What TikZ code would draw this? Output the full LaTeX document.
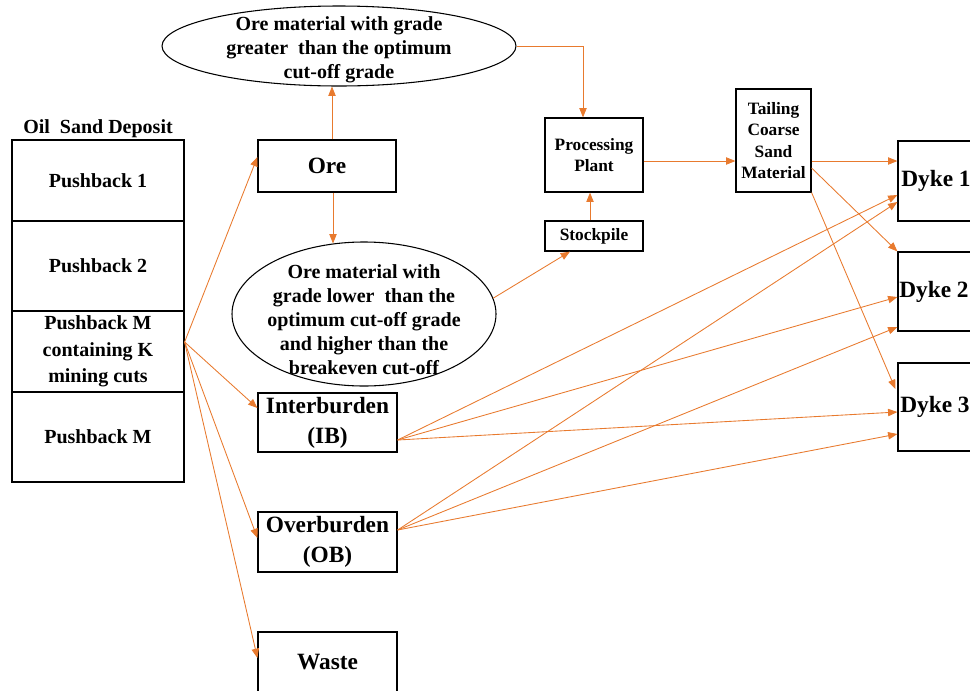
\documentclass[tikz,border=0pt]{standalone}
\usepackage{fontspec}
\setmainfont{Liberation Serif}
\usetikzlibrary{shapes.geometric,calc,arrows.meta}
\definecolor{flowor}{RGB}{232,122,46}
\newcommand{\fsz}[2]{\fontsize{#1}{#2}\selectfont\bfseries}

\begin{document}
\begin{tikzpicture}[x=0.75pt,y=-0.75pt,
  box/.style={draw, line width=0.9pt, inner sep=0pt, align=center},
  wh/.style 2 args={minimum width=#1*0.75pt, minimum height=#2*0.75pt},
  oval/.style={draw, ellipse, line width=0.8pt, inner sep=0pt},
  flow/.style={draw=flowor, line width=0.65pt, -{Triangle[length=7pt,width=5.5pt]}},
  big/.style={font=\fsz{17.5}{22.5}},
  mid/.style={font=\fsz{15}{18}},
  pbtext/.style={font=\fsz{15}{20}},
  small/.style={font=\fsz{13}{16}},
  ]
\useasboundingbox (0,0) rectangle (970,690);
\clip (0,0) rectangle (970,690);

% ---- deposit column ----
\node[pbtext] (deplabel) at (98,129) {Oil\ \ Sand Deposit};
\node[box, wh={172}{81}, pbtext] (pb1) at (98,180.5) {Pushback 1};
\node[box, wh={172}{90}, pbtext] (pb2) at (98,266) {Pushback 2};
\node[box, wh={172}{81}, pbtext] (pbk) at (98,351.5) {Pushback M\\containing K\\mining cuts};
\node[box, wh={172}{90}, pbtext] (pbm) at (98,437) {Pushback M};
\coordinate (src) at ($(pbk.east)+(0,-9.5)$);

% ---- material classes ----
\node[box, wh={138}{52}, big] (ore) at (327,166) {Ore};
\node[box, wh={139}{59}, big] (ib) at (327.5,422.5) {Interburden\\(IB)};
\node[box, wh={139}{60}, big] (ob) at (327.5,542) {Overburden\\(OB)};
\node[box, wh={139}{60}, big] (waste) at (327.5,662) {Waste};

% ---- grade ellipses ----
\node[oval, wh={354}{80}] (hi) at (339,46) {};
\node[mid, align=center] (hitxt) at (339,50) {Ore material with grade\\greater\ \ than the optimum\\cut-off grade};
\node[oval, wh={264}{144}] (lo) at (364,314) {};
\node[mid, align=center] (lotxt) at (364,320) {Ore material with\\grade lower\ \ than the\\optimum cut-off grade\\and higher than the\\breakeven cut-off};

% ---- processing ----
\node[box, wh={98}{74}, small] (plant) at (594,155) {Processing\\Plant};
\node[box, wh={98}{30}, small] (stock) at (594,236) {Stockpile};
\node[box, wh={75}{103}, small] (tail) at (773.5,140.5) {Tailing\\Coarse\\Sand\\Material};

% ---- dykes ----
\node[box, wh={80}{80}] (d1) at (938,181) {};
\node[box, wh={80}{79}] (d2) at (938,291.5) {};
\node[box, wh={80}{88}] (d3) at (938,407) {};
\node[big, anchor=west, inner sep=0pt] (d1t) at (901,181) {Dyke 1};
\node[big, anchor=west, inner sep=0pt] (d2t) at (899,292) {Dyke 2};
\node[big, anchor=west, inner sep=0pt] (d3t) at (900,407) {Dyke 3};

% ---- deposit to material classes ----
\draw[flow] (src) -- ($(ore.west)+(0,-9)$);
\draw[flow] (src) -- ($(ib.west)+(0,-14.5)$);
\draw[flow] (src) -- ($(ob.west)+(0,-4)$);
\draw[flow] (src) -- ($(waste.west)+(0,-4)$);

% ---- ore routing ----
\draw[flow] (ore.north) ++(5,0) coordinate (oreup) -- (oreup |- hi.south);
\draw[flow] (ore.south) ++(6,0) coordinate (oredn) -- ($(oredn |- lo.north)+(0,2)$);
\draw[flow] (hi.east) -| ($(plant.north)+(-11,0)$);
\draw[flow] (lo.7) -- ($(stock.south)+(-24,0)$);
\draw[flow] ($(stock.north)+(-4,0)$) -- ($(plant.south)+(-4,0)$);
\draw[flow] ($(plant.east)+(0,6)$) coordinate (pe) -- (pe -| tail.west);

% ---- tailing sand to dykes ----
\draw[flow] (pe -| tail.east) -- (pe -| d1.west);
\draw[flow] ($(tail.east)+(0,27.5)$) -- (d2.north west);
\draw[flow] (tail.south east) -- ($(d3.west)+(-2,-18)$);

% ---- interburden and overburden to dykes ----
\coordinate (ibs) at ($(ib.east)+(0,17.5)$);
\coordinate (obs) at ($(ob.east)+(0,-12)$);
\draw[flow] (ibs) -- ($(d1.west)+(0,14)$);
\draw[flow] (ibs) -- ($(d2.west)+(0,5.5)$);
\draw[flow] (ibs) -- ($(d3.west)+(0,5)$);
\draw[flow] (obs) -- ($(d1.west)+(0,21)$);
\draw[flow] (obs) -- ($(d2.west)+(0,35.5)$);
\draw[flow] (obs) -- ($(d3.west)+(0,27)$);
\end{tikzpicture}
\end{document}
